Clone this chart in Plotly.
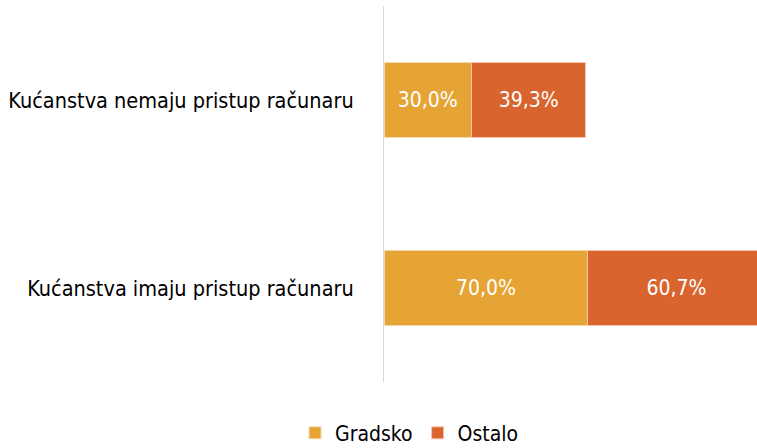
import plotly.graph_objects as go

categories = ["Kućanstva imaju pristup računaru", "Kućanstva nemaju pristup računaru"]
gradsko = [70.0, 30.0]
ostalo = [60.7, 39.3]

FONT = "Liberation Sans Narrow, DejaVu Sans Condensed, sans-serif"

fig = go.Figure()
fig.add_trace(go.Bar(
    y=categories, x=gradsko, name="Gradsko", orientation="h",
    marker=dict(color="#E5A434", line=dict(color="#F3D9B0", width=1)),
    texttemplate="%{x:.1f}%", textposition="inside", insidetextanchor="middle",
    textfont=dict(color="white", size=21, family=FONT),
))
fig.add_trace(go.Bar(
    y=categories, x=ostalo, name="Ostalo", orientation="h",
    marker=dict(color="#D9642E", line=dict(color="#F0C6B0", width=1)),
    texttemplate="%{x:.1f}%", textposition="inside", insidetextanchor="middle",
    textfont=dict(color="white", size=21, family=FONT),
))

fig.update_layout(
    width=757, height=448,
    barmode="stack", bargap=0.6,
    separators=",.",
    plot_bgcolor="white", paper_bgcolor="white",
    font=dict(family=FONT, size=22, color="black"),
    margin=dict(l=384, r=0, t=6, b=66, autoexpand=False),
    showlegend=True,
    legend=dict(orientation="h", xref="container", yref="container",
                x=0.541, xanchor="center", y=0.033, yanchor="middle",
                font=dict(size=21), itemwidth=30, traceorder="normal"),
    uniformtext=dict(mode="show", minsize=10),
)
fig.update_xaxes(range=[0, 128], visible=False)
fig.update_yaxes(showline=True, linecolor="#D9D9D9", linewidth=1, ticks="",
                 showgrid=False, automargin=False, ticklabelstandoff=25,
                 tickfont=dict(size=21.5))

# remove the default page margin so the figure sits at the window's corner
fig.write_html(
    "out.html",
    config={"displayModeBar": False},
    post_script="document.body.style.margin='0';document.body.style.overflow='hidden';",
)
